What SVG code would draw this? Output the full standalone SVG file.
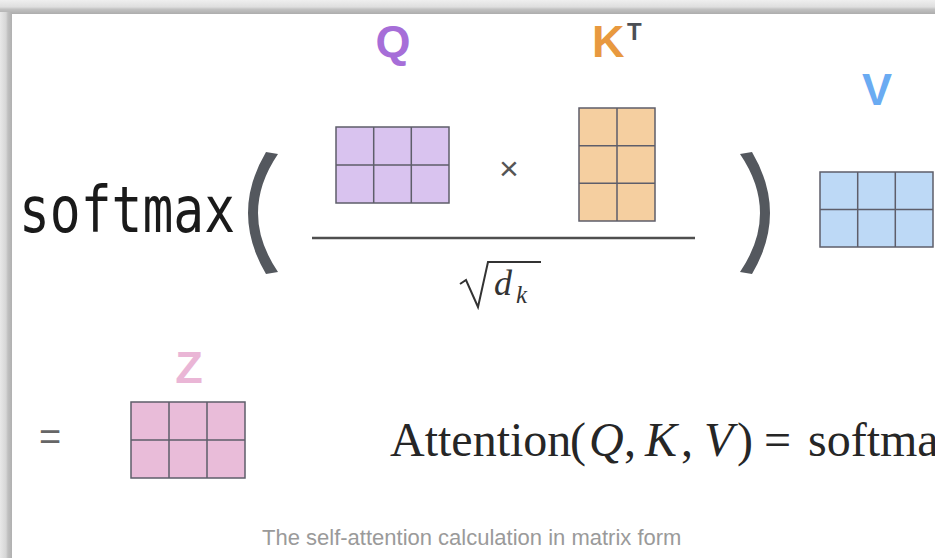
<svg xmlns="http://www.w3.org/2000/svg" width="935" height="558" viewBox="0 0 935 558">
  <defs>
    <linearGradient id="gTop" x1="0" y1="0" x2="0" y2="1">
      <stop offset="0" stop-color="#efefef"/>
      <stop offset="0.5" stop-color="#dedede"/>
      <stop offset="0.65" stop-color="#c2c2c2"/>
      <stop offset="1" stop-color="#adadad"/>
    </linearGradient>
    <linearGradient id="gLeft" x1="0" y1="0" x2="1" y2="0">
      <stop offset="0" stop-color="#e8e8e8"/>
      <stop offset="0.5" stop-color="#d6d6d6"/>
      <stop offset="0.65" stop-color="#c0c0c0"/>
      <stop offset="1" stop-color="#b0b0b0"/>
    </linearGradient>
    <style>
      .cell { stroke: #5e5e6a; stroke-width: 1.5; }
      .grid { stroke: #5e5e6a; stroke-width: 1.5; fill: none; }
      .lbl { font-family: "Liberation Sans", Arial, sans-serif; font-weight: bold; font-size: 45px; text-anchor: middle; }
      .math { font-family: "Liberation Serif", "Times New Roman", serif; font-size: 48px; fill: #262626; }
      .it { font-style: italic; }
      .paren { fill: #54585e; }
    </style>
  </defs>

  <!-- window shadow frame -->
  <rect x="0" y="0" width="935" height="558" fill="#eeeeee"/>
  <rect x="0" y="0" width="935" height="14" fill="url(#gTop)"/>
  <rect x="0" y="12" width="12" height="546" fill="url(#gLeft)"/>
  <rect x="12" y="14" width="923" height="544" fill="#ffffff"/>

  <!-- softmax( ... ) -->
  <g id="softmax">
    <text x="19" y="232" font-family="DejaVu Sans Mono, Liberation Mono, monospace" font-size="64" fill="#1a1a1a" textLength="216" lengthAdjust="spacingAndGlyphs">softmax</text>
    <path class="paren" d="M266,152 Q230,213 266,274 L278,272 Q238,213 278,154 Z"/>
    <path class="paren" d="M752,152 Q788,213 752,274 L740,272 Q780,213 740,154 Z"/>
  </g>

  <g id="node-Q">
    <text class="lbl" x="393" y="57" fill="#a66ed8">Q</text>
    <rect class="cell" x="336" y="127" width="113" height="76" fill="#d9c3ef"/>
    <path class="grid" d="M373.7,127 V203 M411.3,127 V203 M336,165 H449"/>
  </g>

  <g id="times">
    <text x="509" y="180" font-family="Liberation Sans, Arial, sans-serif" font-size="34" fill="#555555" text-anchor="middle">×</text>
  </g>

  <g id="node-K">
    <text x="592" y="57" font-family="Liberation Sans, Arial, sans-serif" font-weight="bold" font-size="45" fill="#e8993f">K</text>
    <text x="627" y="40" font-family="Liberation Sans, Arial, sans-serif" font-weight="bold" font-size="24" fill="#4b4f55">T</text>
    <rect class="cell" x="579" y="108" width="76" height="113" fill="#f5cfa0"/>
    <path class="grid" d="M617,108 V221 M579,145.7 H655 M579,183.3 H655"/>
  </g>

  <g id="fraction">
    <line x1="312" y1="238" x2="695" y2="238" stroke="#4f4f4f" stroke-width="2.5"/>
    <path d="M460,284 L466,280 L478,307 L488,262 L541,262" fill="none" stroke="#333333" stroke-width="2"/>
    <text x="494" y="295" font-family="Liberation Serif, 'Times New Roman', serif" font-style="italic" font-size="36" fill="#333333">d</text>
    <text x="516" y="303" font-family="Liberation Serif, 'Times New Roman', serif" font-style="italic" font-size="25" fill="#333333">k</text>
  </g>

  <g id="node-V">
    <text class="lbl" x="877" y="105" fill="#6aabf2">V</text>
    <rect class="cell" x="820" y="172" width="113" height="75" fill="#bdd9f6"/>
    <path class="grid" d="M857.7,172 V247 M895.3,172 V247 M820,209.5 H933"/>
  </g>

  <g id="equals">
    <text x="50" y="450" font-family="Liberation Sans, Arial, sans-serif" font-size="38" fill="#666666" text-anchor="middle">=</text>
  </g>

  <g id="node-Z">
    <text class="lbl" x="189" y="383" fill="#eab6d6">Z</text>
    <rect class="cell" x="131" y="402" width="114" height="76" fill="#e9bcd9"/>
    <path class="grid" d="M169,402 V478 M207,402 V478 M131,440 H245"/>
  </g>

  <g id="attention-formula">
    <text class="math" x="390" y="456">Attention</text>
    <text class="math" x="570" y="456">(</text>
    <text class="math it" x="589" y="456">Q</text>
    <text class="math" x="624" y="456">,</text>
    <text class="math it" x="645" y="456">K</text>
    <text class="math" x="681" y="456">,</text>
    <text class="math it" x="704" y="456">V</text>
    <text class="math" x="737" y="456">)</text>
    <text class="math" x="764" y="456">=</text>
    <text class="math" x="808" y="456">softma</text>
  </g>

  <g id="connectors"/>

  <g id="caption">
    <text x="262" y="545" font-family="Liberation Sans, Arial, sans-serif" font-size="22" fill="#9a9a9a">The self-attention calculation in matrix form</text>
  </g>
</svg>
